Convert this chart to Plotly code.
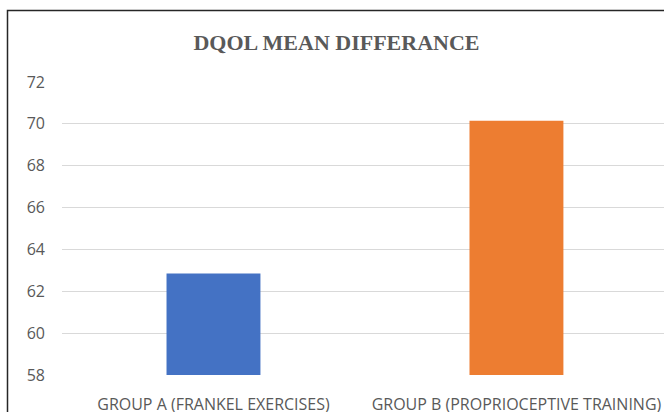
import plotly.graph_objects as go

categories = ["GROUP A (FRANKEL EXERCISES)", "GROUP B (PROPRIOCEPTIVE TRAINING)"]
values = [62.85, 70.15]
colors = ["#4472C4", "#ED7D31"]
y_ticks = [58, 60, 62, 64, 66, 68, 70, 72]

W, H = 664, 412
L, T, B_ = 62, 82, 375
PW = 602
PH = B_ - T

fig = go.Figure(go.Bar(
    x=[0, 1], y=values, marker=dict(color=colors, line=dict(width=0)),
    width=0.31,
))

fig.update_layout(
    width=W, height=H,
    margin=dict(l=L, r=W - L - PW, t=T, b=H - B_),
    paper_bgcolor="white", plot_bgcolor="white",
    showlegend=False,
    title=dict(text="<b>DQOL MEAN DIFFERANCE</b>", x=(336.5 - L) / PW, xref="paper", xanchor="center",
               y=1 - 42.5 / H, yanchor="middle",
               font=dict(family="Liberation Serif", size=22, color="#595959")),
    xaxis=dict(range=[-0.5, 1.487], tickmode="array", tickvals=[0, 1], ticktext=categories,
               showgrid=False, showline=False, zeroline=False, ticks="",
               ticklabelstandoff=18,
               tickfont=dict(family="Open Sans", size=16, color="#595959")),
    yaxis=dict(range=[58, 72], tickmode="array", tickvals=y_ticks,
               showgrid=True, gridcolor="#D9D9D9", gridwidth=1, zeroline=False,
               showline=False, ticks="", ticklabelstandoff=16,
               tickfont=dict(family="Open Sans", size=16, color="#595959")),
    shapes=[dict(type="rect", xref="paper", yref="paper",
                 x0=(7.5 - L) / PW, x1=1.2, y0=-0.5, y1=(B_ - 10.5) / PH,
                 line=dict(color="#262626", width=1.5), fillcolor="rgba(0,0,0,0)", layer="below")],
)
fig.update_xaxes(automargin=False)
fig.update_yaxes(automargin=False)

fig.write_html("out.html",
               config={"displayModeBar": False, "staticPlot": True},
               post_script="document.body.style.margin='0';document.body.style.overflow='hidden';")
